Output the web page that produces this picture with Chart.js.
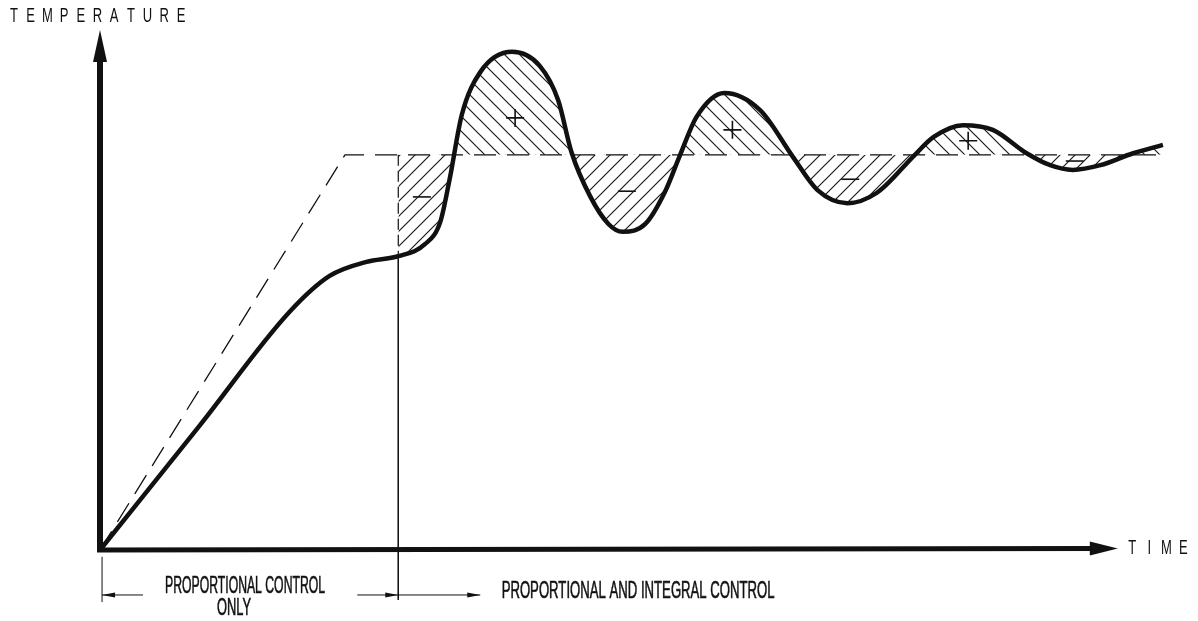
<!DOCTYPE html>
<html>
<head>
<meta charset="utf-8">
<script src="https://cdn.jsdelivr.net/npm/chart.js@4"></script>
<style>
  html, body { margin: 0; padding: 0; background: #fff; }
  #wrap { width: 1198px; height: 621px; position: relative; }
</style>
</head>
<body>
<div id="wrap"><canvas id="chart"></canvas></div>
<script>
// Temperature response (thick curve)
const curveTime = [0, 9.76, 18.5, 22.4, 26.0, 29.1, 31.7, 33.2, 34.1, 35.3, 37.1, 40.2, 42.9, 44.7, 46.0,
    47.8, 49.6, 51.0, 53.2, 55.1, 56.6, 58.2, 60.9, 64.4, 67.6, 70.0, 72.9, 75.8, 79.5, 81.3,
    84.2, 87.1, 90.4, 92.7, 94.9, 97.6, 100.8, 103.7];
const curveTemp = [0, 24.0, 45.8, 52.7, 55.4, 56.5, 58.8, 63.1, 71.2, 83.7, 91.9, 95.8, 93.1, 86.5, 76.5,
    68.1, 62.7, 61.2, 62.7, 68.8, 76.0, 83.3, 87.9, 84.6, 75.6, 69.2, 66.7, 68.7, 76.0, 79.4,
    81.7, 80.8, 76.3, 74.0, 73.1, 74.0, 76.3, 77.9];

// Set point (dashed ramp + plateau)
const setTime = [0, 23.9, 103.9];
const setTemp = [0, 76, 76];

// Switch to proportional + integral control
const switchTime = 29.1;
const switchTemp = 56.5;

// +/- markers of the error areas
const signTime = [40.5, 61.7, 84.7, 31.4, 51.4, 73.2, 95.1];
const signTemp = [83.1, 80.8, 78.7, 67.9, 69.0, 71.3, 74.8];
const signStyle = ['cross', 'cross', 'cross', 'line', 'line', 'line', 'line'];

const axisTimeEnd = 99.3;
const axisTempEnd = 100;
const tempLabel = 'TEMPERATURE';
const timeLabel = 'TIME';
const phaseLabels = ['PROPORTIONAL CONTROL', 'ONLY', 'PROPORTIONAL AND INTEGRAL CONTROL'];

const INK = '#111';

function hatch(dir) {
    const s = 15;
    const c = document.createElement('canvas');
    c.width = c.height = s;
    const g = c.getContext('2d');
    g.strokeStyle = '#1a1a1a';
    g.lineWidth = 1.2;
    g.beginPath();
    if (dir > 0) { // "/"
        g.moveTo(0, s); g.lineTo(s, 0);
        g.moveTo(-s / 2, s / 2); g.lineTo(s / 2, -s / 2);
        g.moveTo(s / 2, s * 1.5); g.lineTo(s * 1.5, s / 2);
    } else { // "\"
        g.moveTo(0, 0); g.lineTo(s, s);
        g.moveTo(-s / 2, s / 2); g.lineTo(s / 2, s * 1.5);
        g.moveTo(s / 2, -s / 2); g.lineTo(s * 1.5, s / 2);
    }
    g.stroke();
    return g.createPattern(c, 'repeat');
}

const pts = (xs, ys) => xs.map((x, i) => ({ x, y: ys[i] }));

function arrowHead(ctx, x, y, dx, dy, len, half) {
    ctx.beginPath();
    ctx.moveTo(x, y);
    ctx.lineTo(x - dx * len - dy * half, y - dy * len + dx * half);
    ctx.lineTo(x - dx * len + dy * half, y - dy * len - dx * half);
    ctx.closePath();
    ctx.fill();
}

function fitText(ctx, str, cx, cy, width, size) {
    ctx.save();
    ctx.font = size + 'px "Liberation Sans Narrow", "Liberation Sans", sans-serif';
    const w = ctx.measureText(str).width;
    ctx.translate(cx, cy);
    ctx.scale(width / w, 1);
    ctx.textAlign = 'center';
    ctx.textBaseline = 'middle';
    ctx.lineWidth = 0.6;
    ctx.fillText(str, 0, 0);
    ctx.strokeText(str, 0, 0);
    ctx.restore();
}

function spacedText(ctx, str, x0, x1, cy, size) {
    ctx.save();
    ctx.font = size + 'px "Liberation Sans", sans-serif';
    ctx.textAlign = 'center';
    ctx.textBaseline = 'middle';
    const step = (x1 - x0) / (str.length - 1);
    [...str].forEach((ch, i) => {
        ctx.save();
        ctx.translate(x0 + i * step, cy);
        ctx.scale(0.62, 1);
        ctx.fillText(ch, 0, 0);
        ctx.restore();
    });
    ctx.restore();
}

const decorations = {
    id: 'decorations',
    afterDatasetsDraw(chart) {
        const { ctx } = chart;
        const X = v => chart.scales.x.getPixelForValue(v);
        const Y = v => chart.scales.y.getPixelForValue(v);
        ctx.save();
        ctx.fillStyle = INK;
        ctx.strokeStyle = INK;

        // Axes
        ctx.lineCap = 'butt';
        ctx.lineWidth = 6;
        ctx.beginPath();
        ctx.moveTo(X(0), Y(0) + 2);
        ctx.lineTo(X(0), Y(axisTempEnd) + 30);
        ctx.stroke();
        arrowHead(ctx, X(0), Y(axisTempEnd), 0, -1, 32, 7);

        ctx.lineWidth = 5;
        ctx.beginPath();
        ctx.moveTo(X(0) - 3, Y(0));
        ctx.lineTo(X(axisTimeEnd) - 26, Y(0) - 1.5);
        ctx.stroke();
        arrowHead(ctx, X(axisTimeEnd), Y(0) - 1.5, 1, 0, 28, 7);

        // Dimension lines under the time axis
        ctx.lineWidth = 1;
        ctx.beginPath();
        ctx.moveTo(X(0.2), Y(-1.3));
        ctx.lineTo(X(0.2), Y(-10));
        const ay = Y(-8.65);
        ctx.moveTo(X(0.2), ay); ctx.lineTo(X(4.2), ay);
        ctx.moveTo(X(25.1), ay); ctx.lineTo(X(switchTime), ay);
        ctx.moveTo(X(switchTime), ay); ctx.lineTo(X(37.1), ay);
        ctx.stroke();
        arrowHead(ctx, X(0.2), ay, -1, 0, 13, 2.5);
        arrowHead(ctx, X(switchTime), ay, 1, 0, 13, 2.5);
        arrowHead(ctx, X(37.1), ay, 1, 0, 13, 2.5);

        // Texts
        fitText(ctx, phaseLabels[0], X(14.15), Y(-7.1), 160, 23);
        fitText(ctx, phaseLabels[1], X(13.07), Y(-11.3), 34, 23);
        fitText(ctx, phaseLabels[2], X(52.5), Y(-8.08), 273, 23);
        spacedText(ctx, tempLabel, X(-8.4), X(7.9), Y(102.6), 21);
        spacedText(ctx, timeLabel, X(100.7), X(105.7), Y(0.4), 21);
        ctx.restore();
    }
};

new Chart(document.getElementById('chart').getContext('2d'), {
    type: 'line',
    data: {
        datasets: [
            { label: 'Temperature', data: pts(curveTime, curveTemp),
              borderColor: INK, borderWidth: 4.5, pointRadius: 0,
              cubicInterpolationMode: 'monotone',
              fill: { target: 2, above: hatch(-1), below: hatch(1) } },
            { label: 'Set point', data: pts(setTime, setTemp),
              borderColor: INK, borderWidth: 1.3, borderDash: [22, 11], pointRadius: 0, fill: false },
            { label: 'Set point (P+I)', data: pts([switchTime, setTime[2]], [setTemp[2], setTemp[2]]),
              borderColor: 'rgba(0,0,0,0)', borderWidth: 1, pointRadius: 0, fill: false },
            { label: 'Switch (upper)', data: pts([switchTime, switchTime], [setTemp[2], switchTemp]),
              borderColor: INK, borderWidth: 1.2, borderDash: [11, 5], pointRadius: 0, fill: false },
            { label: 'Switch (lower)', data: pts([switchTime, switchTime], [switchTemp, -9.6]),
              borderColor: INK, borderWidth: 1, pointRadius: 0, fill: false },
            { label: 'Error sign', data: pts(signTime, signTemp), showLine: false,
              pointStyle: signStyle, pointRadius: 9, pointBorderWidth: 1.6,
              pointBorderColor: INK, pointBackgroundColor: INK, fill: false }
        ]
    },
    options: {
        responsive: true, maintainAspectRatio: false, animation: false,
        events: [],
        layout: { padding: 0, autoPadding: false },
        plugins: { legend: { display: false }, tooltip: { enabled: false } },
        scales: {
            x: { type: 'linear', display: false, min: -100 / 10.25, max: 1098 / 10.25 },
            y: { type: 'linear', display: false, min: -71 / 5.2, max: 550 / 5.2 }
        }
    },
    plugins: [decorations]
});
</script>
</body>
</html>
